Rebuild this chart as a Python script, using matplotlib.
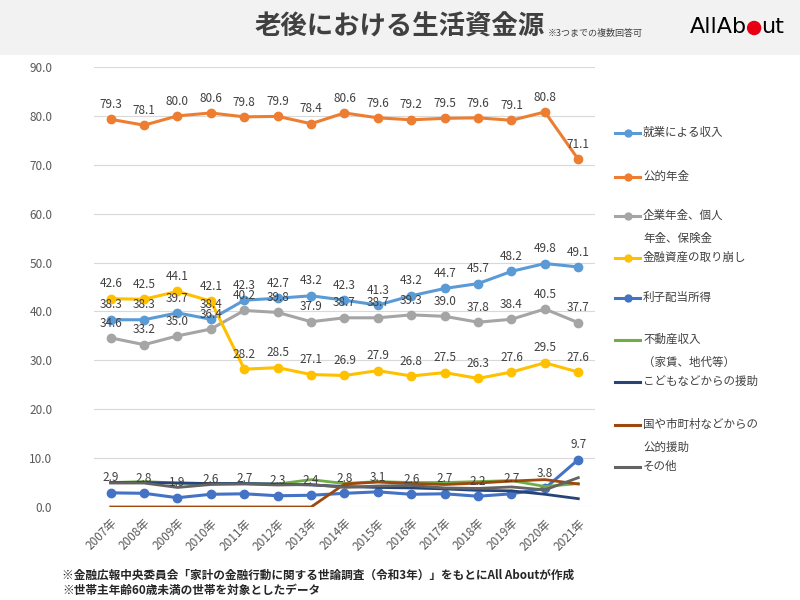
import matplotlib
matplotlib.use("Agg")
import matplotlib.pyplot as plt
from matplotlib.lines import Line2D
from matplotlib.patches import Rectangle, Ellipse

plt.rcParams['font.family'] = ['Noto Sans CJK JP', 'DejaVu Sans']

# データ
years = ["2007年", "2008年", "2009年", "2010年", "2011年", "2012年", "2013年", "2014年",
         "2015年", "2016年", "2017年", "2018年", "2019年", "2020年", "2021年"]

shugyo = [38.3, 38.3, 39.7, 38.4, 42.3, 42.7, 43.2, 42.3, 41.3, 43.2, 44.7, 45.7, 48.2, 49.8, 49.1]
koteki = [79.3, 78.1, 80.0, 80.6, 79.8, 79.9, 78.4, 80.6, 79.6, 79.2, 79.5, 79.6, 79.1, 80.8, 71.1]
kigyo = [34.6, 33.2, 35.0, 36.4, 40.2, 39.8, 37.9, 38.7, 38.7, 39.3, 39.0, 37.8, 38.4, 40.5, 37.7]
kinyu = [42.6, 42.5, 44.1, 42.1, 28.2, 28.5, 27.1, 26.9, 27.9, 26.8, 27.5, 26.3, 27.6, 29.5, 27.6]
rishi = [2.9, 2.8, 1.9, 2.6, 2.7, 2.3, 2.4, 2.8, 3.1, 2.6, 2.7, 2.2, 2.7, 3.8, 9.7]
fudosan = [5.0, 5.2, 4.9, 4.8, 4.8, 4.7, 5.6, 4.8, 5.2, 5.0, 5.0, 5.2, 5.4, 4.2, 4.8]
kodomo = [5.0, 5.0, 4.9, 4.8, 4.8, 4.7, 4.5, 4.2, 4.0, 3.9, 3.7, 3.4, 3.3, 2.6, 1.7]
kuni = [0.0, 0.0, 0.0, 0.0, 0.0, 0.0, 0.0, 4.7, 5.1, 4.8, 4.6, 4.9, 5.3, 5.6, 4.7]
sonota = [4.9, 4.9, 4.0, 4.6, 4.7, 4.5, 4.6, 4.0, 4.3, 4.4, 3.9, 3.8, 4.1, 3.5, 6.0]

labels = ["就業による収入", "公的年金", "企業年金、個人\n年金、保険金", "金融資産の取り崩し",
          "利子配当所得", "不動産収入\n（家賃、地代等）", "こどもなどからの援助",
          "国や市町村などからの\n公的援助", "その他"]
colors = ["#5B9BD5", "#ED7D31", "#A5A5A5", "#FFC000", "#4472C4",
          "#70AD47", "#264478", "#9E480E", "#636363"]
series = [shugyo, koteki, kigyo, kinyu, rishi, fudosan, kodomo, kuni, sonota]
with_marker = [True, True, True, True, True, False, False, False, False]

fig = plt.figure(figsize=(8, 6), dpi=100)
fig.patch.set_facecolor("white")
fig.patches.append(Rectangle((0, 1 - 55 / 600), 1, 55 / 600, transform=fig.transFigure,
                             facecolor="#F2F2F2", edgecolor="none", zorder=0))

ax = fig.add_axes([94 / 800, 1 - 507 / 600, 501 / 800, 440 / 600])
x = list(range(len(years)))

for vals, c, m in zip(series, colors, with_marker):
    if m:
        ax.plot(x, vals, color=c, lw=2.2, marker="o", ms=6, zorder=3)
    else:
        ax.plot(x, vals, color=c, lw=2.0, zorder=3)

# データラベル
for vals, m in zip(series, with_marker):
    if not m:
        continue
    for xi, v in zip(x, vals):
        ax.annotate(f"{v:.1f}", (xi, v), xytext=(0, 6), textcoords="offset points",
                    ha="center", va="bottom", fontsize=8.5, color="#404040", zorder=4)

ax.set_xlim(-0.5, len(years) - 0.5)
ax.set_ylim(0, 90)
ax.set_yticks(range(0, 91, 10))
ax.set_yticklabels([f"{v:.1f}" for v in range(0, 91, 10)])
ax.set_xticks(x)
ax.set_xticklabels(years, rotation=45, ha="right", rotation_mode="anchor")
ax.tick_params(axis="y", length=0, pad=30, labelsize=8.5, labelcolor="#595959")
ax.tick_params(axis="x", length=0, pad=7, labelsize=8.5, labelcolor="#595959")
ax.grid(axis="y", color="#D9D9D9", lw=0.8)
ax.set_axisbelow(True)
for s in ax.spines.values():
    s.set_visible(False)

# 凡例（手描き）
leg_y = [133, 177, 216, 258, 298, 340, 382, 425, 467]
for lab, c, m, py in zip(labels, colors, with_marker, leg_y):
    yf = 1 - py / 600
    fig.add_artist(Line2D([615 / 800, 640 / 800], [yf, yf], color=c, lw=2.2,
                          transform=fig.transFigure))
    if m:
        fig.add_artist(Line2D([627.5 / 800], [yf], color=c, marker="o", ms=5,
                              transform=fig.transFigure))
    fig.text(643 / 800, yf + 7 / 600, lab, ha="left", va="top", fontsize=8.3,
             color="#404040", linespacing=1.95)

# タイトル
fig.text(545 / 800, 1 - 27 / 600, "老後における生活資金源", ha="right", va="center",
         fontsize=19, fontweight="bold", color="#404040")
fig.text(548 / 800, 1 - 33 / 600, "※3つまでの複数回答可", ha="left", va="center",
         fontsize=6.5, color="#404040")

# ロゴ
r = fig.canvas.get_renderer()
t1 = fig.text(690 / 800, 1 - 27 / 600, "AllAb", ha="left", va="center",
              fontsize=16, color="black", family="Liberation Sans Narrow")
bb = t1.get_window_extent(r)
dot_x = bb.x1 + 7
fig.patches.append(Ellipse((dot_x / 800, 1 - 28 / 600), 13 / 800, 13 / 600,
                           transform=fig.transFigure, color="#E60012"))
fig.text((dot_x + 7) / 800, 1 - 27 / 600, "ut", ha="left", va="center",
         fontsize=16, color="black", family="Liberation Sans Narrow")

# 注記
fig.text(62 / 800, 1 - 575 / 600,
         "※金融広報中央委員会「家計の金融行動に関する世論調査（令和3年）」をもとにAll Aboutが作成",
         ha="left", va="center", fontsize=8.4, fontweight="bold", color="#262626")
fig.text(62 / 800, 1 - 590 / 600, "※世帯主年齢60歳未満の世帯を対象としたデータ",
         ha="left", va="center", fontsize=8.4, fontweight="bold", color="#262626")

fig.savefig("out.png", dpi=100)
